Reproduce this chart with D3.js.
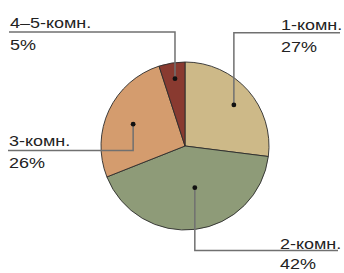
<!DOCTYPE html>
<html>
<head>
<meta charset="utf-8">
<script src="https://cdn.jsdelivr.net/npm/d3@7"></script>
<style>
  html, body { margin: 0; padding: 0; background: #fff; }
  svg { display: block; font-family: 'Liberation Sans', Arial, sans-serif; }
</style>
</head>
<body>
<svg id="chart"></svg>
<script>
const WIDTH = 344
const HEIGHT = 273

// data
const categories = ['1-комн.', '2-комн.', '3-комн.', '4–5-комн.']
const shares = [27, 42, 26, 5]
const colors = ['#cdb988', '#8e9b78', '#d49c6e', '#893a30']

// label placement per slice (layout only)
const dotPos = [[0.514, 0.76], [0.46, 0.51], [0.475, 0.67], [0.53, 0.81]]
const labelBox = [
  { lineY: 32.7, lineEnd: 340, textX: 281, nameY: 30, pctY: 52.3 },
  { lineY: 250.5, lineEnd: 338, textX: 280, nameY: 249, pctY: 269 },
  { lineY: 150.5, lineEnd: 8, textX: 9, nameY: 146, pctY: 167.5 },
  { lineY: 32, lineEnd: 9, textX: 10, nameY: 28, pctY: 50 }
]

const CX = 185
const CY = 146
const R = 84
const FONT = 15.5
const STRETCH = 1.16

const svg = d3.select('#chart')
  .attr('width', WIDTH)
  .attr('height', HEIGHT)

const data = categories.map((c, i) => ({ name: c, value: shares[i], i }))

const pie = d3.pie()
  .value(d => d.value)
  .sort(null)

const arcs = pie(data)
const arc = d3.arc().innerRadius(0).outerRadius(R)

const g = svg.append('g')
  .attr('transform', `translate(${CX}, ${CY})`)

g.selectAll('path.slice')
  .data(arcs)
  .enter()
  .append('path')
  .attr('class', 'slice')
  .attr('d', arc)
  .attr('fill', d => colors[d.data.i])
  .attr('stroke', '#2b2b2b')
  .attr('stroke-width', 0.9)

function dotPoint(d) {
  const [t, k] = dotPos[d.data.i]
  const a = d.startAngle + t * (d.endAngle - d.startAngle)
  return [CX + k * R * Math.sin(a), CY - k * R * Math.cos(a)]
}

const labels = svg.append('g')

function label(x, y, txt) {
  labels.append('text')
    .attr('transform', `translate(${x}, ${y}) scale(${STRETCH}, 1)`)
    .attr('font-size', FONT)
    .attr('fill', '#222')
    .text(txt)
}

arcs.forEach(d => {
  const [x, y] = dotPoint(d)
  const lb = labelBox[d.data.i]
  labels.append('path')
    .attr('d', `M${x},${y}V${lb.lineY}H${lb.lineEnd}`)
    .attr('fill', 'none')
    .attr('stroke', '#707070')
    .attr('stroke-width', 1.5)
  labels.append('circle')
    .attr('cx', x)
    .attr('cy', y)
    .attr('r', 2.4)
    .attr('fill', '#111')
  label(lb.textX, lb.nameY, d.data.name)
  label(lb.textX, lb.pctY, d.data.value + '%')
})
</script>
</body>
</html>
